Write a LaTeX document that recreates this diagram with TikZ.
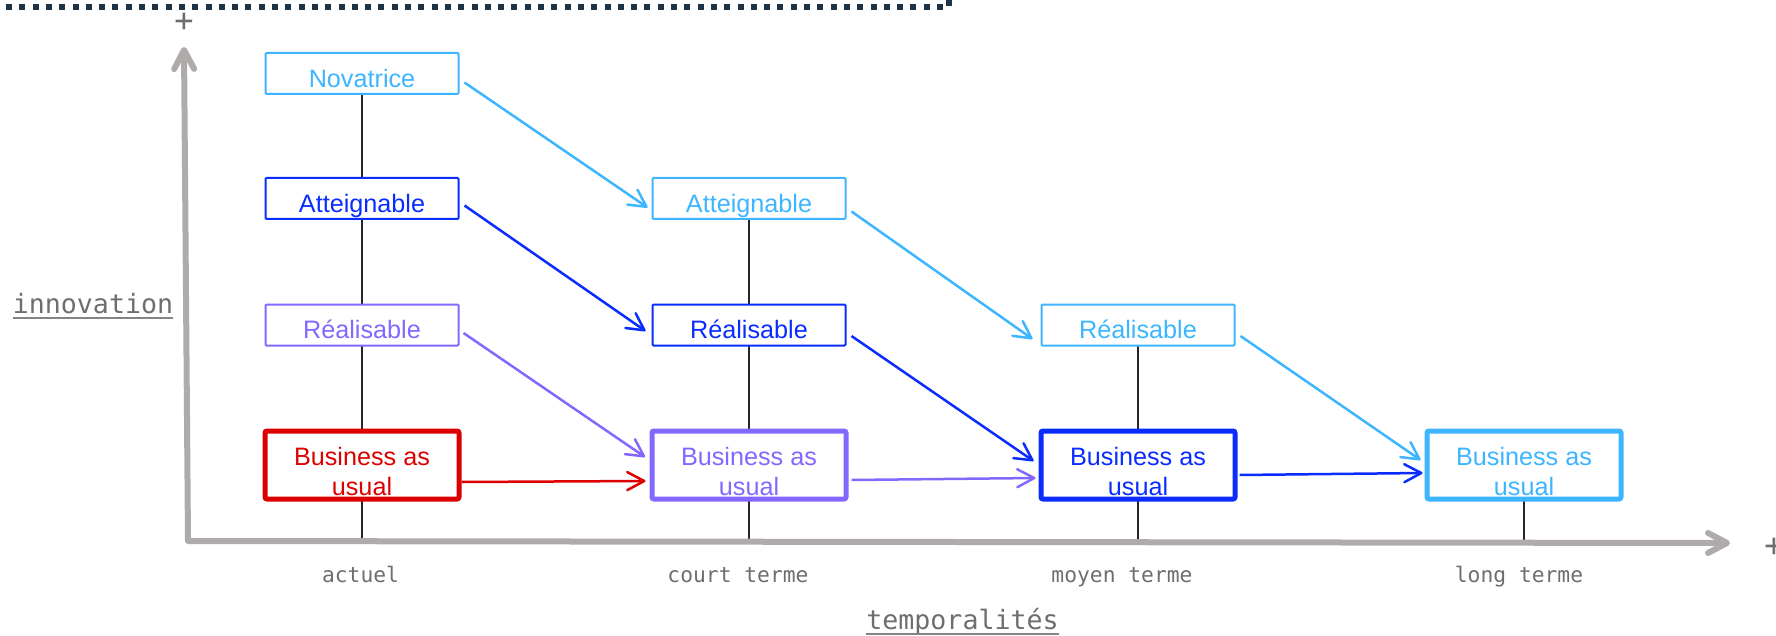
\documentclass[tikz,border=0pt]{standalone}
\usepackage{fontspec}
\setmainfont{Liberation Sans}
\newfontfamily\monofont{DejaVu Sans Mono}
\usetikzlibrary{arrows.meta,backgrounds}

\definecolor{skyblue}{HTML}{3DB5FF}
\definecolor{deepblue}{HTML}{0A2CFF}
\definecolor{lavender}{HTML}{8467FF}
\definecolor{redbau}{HTML}{DD0000}
\definecolor{textgrey}{HTML}{6E6E6E}
\definecolor{axisgrey}{HTML}{B0ABAB}
\definecolor{navydot}{HTML}{1E3446}

% strut pour descendre le texte dans les cadres epais
\newcommand\baustrut{\rule{0pt}{32pt}}

\tikzset{
  tierbox/.style={draw=#1, text=#1, fill=white, line width=2pt,
    minimum width=193pt, minimum height=41pt, inner sep=0pt,
    rounded corners=1pt, font={\fontsize{25.2}{30}\selectfont},
    text height=28.5pt, text depth=1pt},
  baubox/.style={draw=#1, text=#1, fill=white, line width=5pt,
    minimum width=194pt, minimum height=68pt, inner sep=0pt,
    rounded corners=2pt, align=center, font={\fontsize{25.2}{30}\selectfont}},
  flow/.style={draw=#1, line width=2.5pt,
    -{Straight Barb[round,length=17pt,width=18pt]}},
  axisline/.style={draw=axisgrey, line width=6pt, line join=round,
    arrows={Straight Barb[round,length=19pt,width=20pt]-Straight Barb[round,length=19pt,width=20pt]}},
  stem/.style={draw=black!85, line width=1.3pt},
  tick/.style={font={\monofont\fontsize{21.3}{25}\selectfont}, text=textgrey,
    anchor=base, inner sep=0pt},
  axislabel/.style={font={\monofont\fontsize{26.6}{30}\selectfont}, text=textgrey,
    anchor=base, inner sep=0pt},
  underl/.style={draw=textgrey!85, line width=2pt},
  plus/.style={font={\monofont\fontsize{32}{32}\selectfont}, text=textgrey,
    inner sep=0pt},
  dotframe/.style={draw=navydot, line width=6pt, dash pattern=on 6pt off 7.3pt}
}

\begin{document}
\begin{tikzpicture}[x=1pt,y=-1pt]
\useasboundingbox (0,0) rectangle (1776,636);

% bord pointille
\draw[dotframe] (6,7.5) -- (949,7.5) -- (949,-12);

% actuel
\node[tierbox=skyblue] (nov1) at (362,73.5) {Novatrice};
\node[tierbox=deepblue] (att1) at (362,198.5) {Atteignable};
\node[tierbox=lavender] (real1) at (362,325) {Réalisable};
\node[baubox=redbau] (bau1) at (362,465) {\baustrut Business as\\usual};

% court terme
\node[tierbox=skyblue] (att2) at (749,198.5) {Atteignable};
\node[tierbox=deepblue] (real2) at (749,325) {Réalisable};
\node[baubox=lavender] (bau2) at (749,465) {\baustrut Business as\\usual};

% moyen terme
\node[tierbox=skyblue] (real3) at (1138,325) {Réalisable};
\node[baubox=deepblue] (bau3) at (1138,465) {\baustrut Business as\\usual};

% long terme
\node[baubox=skyblue] (bau4) at (1524,465) {\baustrut Business as\\usual};

% axes
\coordinate (origin) at (188,541);
\coordinate (ytip) at (184,47);
\coordinate (xtip) at (1730,543);
\draw[axisline] (ytip) -- (origin) -- (xtip);
\node[plus] (yplus) at (184,22) {+};
\node[plus] (xplus) at (1774,547) {+};

\begin{scope}[on background layer]
  \draw[stem] (nov1.center) -- (nov1.center |- origin);
  \draw[stem] (att2.center) -- (att2.center |- origin);
  \draw[stem] (real3.center) -- (real3.center |- origin);
  \draw[stem] (bau4.center) -- (bau4.center |- origin);
\end{scope}

% glissements
\draw[flow=skyblue] ([shift={(5,9)}]nov1.east) -- ([shift={(-4,9)}]att2.west);
\draw[flow=deepblue] ([shift={(5,7)}]att1.east) -- ([shift={(-6,6)}]real2.west);
\draw[flow=lavender] ([shift={(4,8)}]real1.east) -- ([shift={(-4.5,-8)}]bau2.west);
\draw[flow=redbau] ([shift={(0,17)}]bau1.east) -- ([shift={(-4,16)}]bau2.west);

\draw[flow=skyblue] ([shift={(5,13)}]att2.east) -- ([shift={(-8,14)}]real3.west);
\draw[flow=deepblue] ([shift={(5,11)}]real2.east) -- ([shift={(-5,-4)}]bau3.west);
\draw[flow=lavender] ([shift={(3,15)}]bau2.east) -- ([shift={(-3,13)}]bau3.west);

\draw[flow=skyblue] ([shift={(5,11)}]real3.east) -- ([shift={(-4,-5)}]bau4.west);
\draw[flow=deepblue] ([shift={(2,10)}]bau3.east) -- ([shift={(-2,8)}]bau4.west);

% libelles
\node[axislabel] (innov) at (93,313) {innovation};
\draw[underl] ([yshift=-5pt]innov.base west) -- ([yshift=-5pt]innov.base east);
\node[axislabel] (tempo) at (962.5,629) {temporalités};
\draw[underl] ([yshift=-4.5pt]tempo.base west) -- ([yshift=-4.5pt]tempo.base east);

\node[tick] (tA) at (360.5,582) {actuel};
\node[tick] (tB) at (738,582) {court terme};
\node[tick] (tC) at (1122,582) {moyen terme};
\node[tick] (tD) at (1519,582) {long terme};
\end{tikzpicture}
\end{document}
